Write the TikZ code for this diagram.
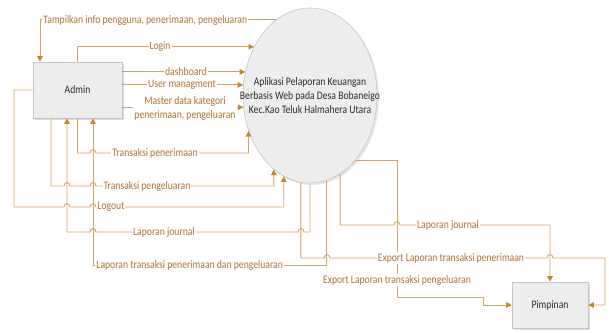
\documentclass[tikz,border=0pt]{standalone}
\usepackage{fontspec}
\setmainfont{Carlito}[FakeStretch=0.84]
\usetikzlibrary{arrows.meta,shapes.geometric,shadows}

\definecolor{flowline}{RGB}{214,162,96}
\definecolor{flowtip}{RGB}{201,132,42}
\definecolor{flowtext}{RGB}{176,114,48}
\definecolor{boxfill}{RGB}{237,237,237}
\definecolor{boxedge}{RGB}{196,196,196}
\definecolor{inktext}{RGB}{45,45,45}

% small bump where a horizontal flow crosses a vertical one
\newcommand\hopright[2]{-- (#1-3,#2) .. controls (#1-3,#2-4.5) and (#1+3,#2-4.5) .. (#1+3,#2)}
\newcommand\hopleft[2]{-- (#1+3,#2) .. controls (#1+3,#2-4.5) and (#1-3,#2-4.5) .. (#1-3,#2)}

\tikzset{
  labelfont/.style={font=\fontsize{11.5}{14}\selectfont},
  entity/.style={rectangle, draw=boxedge, fill=boxfill, line width=0.6pt,
    labelfont, text=inktext,
    drop shadow={shadow xshift=2pt, shadow yshift=-2pt, opacity=0.25}},
  procbubble/.style={ellipse, draw=boxedge, fill=boxfill, line width=0.6pt,
    inner sep=0pt, minimum width=134pt, minimum height=175pt,
    drop shadow={shadow xshift=2pt, shadow yshift=-2pt, opacity=0.2}},
  bubbletext/.style={labelfont, text=inktext, align=center},
  flow/.style={draw=flowline, line width=0.9pt,
    -{Triangle[length=5.5pt, width=5.5pt, color=flowtip]}},
  lbl/.style={labelfont, text=flowtext, fill=white, inner sep=1pt},
}

\begin{document}
\begin{tikzpicture}[x=1pt, y=-1pt]
\useasboundingbox (0,0) rectangle (609,332);

% external entities and the process
\node[entity, minimum width=89pt, minimum height=56pt] (admin) at (77.5,90) {Admin};
\node[entity, minimum width=76pt, minimum height=46pt] (pimp) at (550,305) {Pimpinan};
\node[procbubble] (app) at (310,95.5) {};
\node[bubbletext] (apptext) at (app.center)
  {Aplikasi Pelaporan Keuangan\\Berbasis Web pada Desa Bobaneigo\\Kec.Kao Teluk Halmahera Utara};

% flows between Admin and the application
\draw[flow] (app.114.2) -| (admin.north -| 40,0)
  node[lbl, anchor=west] at (42,20) {Tampilkan info pengguna, penerimaan, pengeluaran};
\draw[flow] (admin.north) |- (app.139) node[lbl] at (160,47) {Login};
\draw[flow] (admin.east |- app.160) -- (app.160) node[lbl] at (186,72) {dashboard};
\draw[flow] (admin.east |- app.171) -- (app.171) node[lbl] at (182,85) {User managment};
\draw[flow] (admin.east |- app.190.7) -- (app.190.7)
  node[lbl, align=center] at (185,108) {Master data kategori\\penerimaan, pengeluaran};
\draw[flow] (admin.south) -- (admin.south |- 0,153) \hopright{93}{153} -| (app.210.7)
  node[lbl] at (155,153) {Transaksi penerimaan};
\draw[flow] (admin.south -| 51,0) -- (51,186) \hopright{67}{186} \hopright{93}{186} -| (app.244.9)
  node[lbl] at (147,186) {Transaksi pengeluaran};
\draw[flow] (admin.west) -| (14,207) \hopright{67}{207} \hopright{93}{207} -| (app.252.9)
  node[lbl, anchor=west] at (96,207) {Logout};
\draw[flow] (app.270.65) -- (app.270.65 |- 0,232) \hopleft{301}{232} \hopleft{93}{232}
  -| (admin.south -| 67,0) node[lbl] at (164,232) {Laporan journal};
\draw[flow] (app.281.4) |- (93,265) -- (admin.south -| 93,0)
  node[lbl, anchor=west] at (95,265) {Laporan transaksi penerimaan dan pengeluaran};

% flows between the application and Pimpinan
\draw[flow] (app.291) -- (app.291 |- 0,225) \hopright{397}{225} -| (pimp.north)
  node[lbl] at (448,225) {Laporan journal};
\draw[flow] (app.305.1) -| (397,297) -| (pimp.west -| 483,0) -- (pimp.west)
  node[lbl] at (397,280) {Export Laporan transaksi pengeluaran};
\draw[flow] (app.264.1) -- (app.264.1 |- 0,258) \hopright{327}{258} \hopright{550}{258}
  -| (pimp.east -| 605,0) -- (pimp.east)
  node[lbl] at (451,258) {Export Laporan transaksi penerimaan};
\end{tikzpicture}
\end{document}
